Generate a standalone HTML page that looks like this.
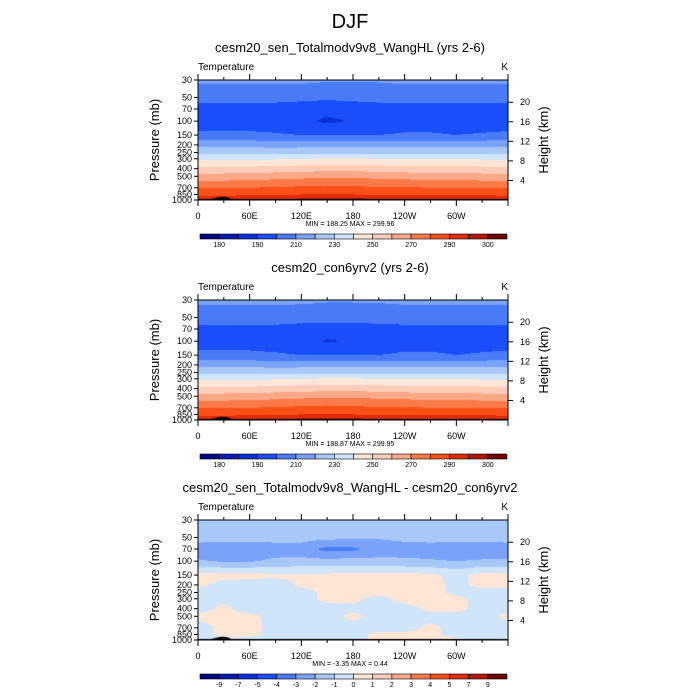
<!DOCTYPE html>
<html><head><meta charset="utf-8"><style>
body{margin:0;background:#fff;}
#root{position:relative;width:700px;height:700px;font-family:"Liberation Sans",sans-serif;}
canvas{position:absolute;}
svg{position:absolute;left:0;top:0;}
</style></head><body>
<div id="root">
<svg id="svg" width="700" height="700"></svg>
</div>
<script>
const plevs=[30,50,70,100,150,200,250,300,400,500,700,850,1000];
const lons=[0,30,60,90,120,150,180,210,240,270,300,330,360];
const temp1=[
[212,212,212,212,212,211,211,211,212,212,212,212,212],
[204,204,204,204,203,202,203,204,204,204,204,204,204],
[195,195,195,195,194,193,194,195,195,195,195,195,195],
[195,195,195,195,193,188,191,195,196,196,195,195,195],
[202,202,202,201,200,200,200,200,201,201,200,201,202],
[218,217,217,216,216,216,217,217,217,217,217,217,218],
[227,227,227,227,228,228,228,228,227,227,227,227,227],
[238,238,238,239,240,241,241,240,239,239,239,239,238],
[253,253,253,254,255,256,256,255,254,254,254,253,253],
[264,264,265,266,267,268,268,267,266,265,265,264,264],
[280,280,280,281,282,283,282,281,281,280,280,280,280],
[288,288,289,289,290,290,290,289,289,289,289,289,288],
[296,297,296,296,297,297,297,297,297,297,296,297,296]];
const temp2=[
[212,212,212,212,212,211,211,211,212,212,212,212,212],
[205,205,205,205,204,204,204,205,205,205,205,205,205],
[197,197,197,197,196,195,195,196,197,197,197,197,197],
[196,196,196,196,194,189,191,196,197,197,196,196,196],
[202,202,202,201,200,200,200,200,201,201,200,201,202],
[218,217,217,216,216,216,217,217,217,217,217,217,218],
[227,227,227,227,228,228,228,228,227,227,227,227,227],
[238,238,238,239,240,241,241,240,239,239,239,239,238],
[253,253,253,254,255,256,256,255,254,254,254,253,253],
[264,264,265,266,267,268,268,267,266,265,265,264,264],
[280,280,280,281,282,283,282,281,281,280,280,280,280],
[288,288,289,289,290,290,290,289,289,289,289,289,288],
[296,297,296,296,297,297,297,297,297,297,296,297,296]];
const diff=[
[-1.5,-1.5,-1.5,-1.5,-1.5,-1.5,-1.5,-1.5,-1.5,-1.5,-1.5,-1.5,-1.5],
[-1.6,-1.6,-1.6,-1.6,-1.6,-1.7,-1.8,-1.9,-1.7,-1.6,-1.6,-1.6,-1.6],
[-2.5,-2.6,-2.6,-2.5,-2.5,-3.3,-3.2,-2.6,-2.5,-2.5,-2.6,-2.6,-2.5],
[-1.9,-2.1,-2.1,-1.8,-1.7,-1.7,-1.6,-1.7,-1.8,-1.9,-2.0,-1.9,-1.9],
[0.3,0.3,0.3,0.2,0.2,0.2,0.3,0.3,0.3,0.2,-0.3,0.3,0.3],
[0.2,-0.3,-0.4,-0.5,0.2,0.2,0.3,0.3,0.3,0.3,-0.2,0.2,0.2],
[-0.3,-0.4,-0.5,-0.5,-0.3,0.2,0.3,0.3,0.3,0.3,-0.2,-0.3,-0.3],
[-0.3,-0.2,-0.5,-0.5,-0.3,0.2,0.2,-0.3,0.3,0.3,0.2,-0.3,-0.3],
[-0.3,0.2,-0.4,-0.4,-0.4,-0.3,-0.2,-0.3,-0.3,0.2,0.2,-0.3,-0.3],
[0.2,0.2,0.2,-0.3,-0.3,-0.3,0.2,-0.3,-0.3,-0.3,-0.2,-0.3,0.2],
[-0.3,0.2,0.3,-0.3,-0.3,-0.3,-0.3,-0.3,-0.3,0.2,-0.3,-0.3,-0.3],
[-0.3,0.2,0.2,-0.3,-0.3,-0.2,-0.3,0.2,0.2,0.2,-0.3,-0.3,-0.3],
[-0.3,-0.3,-0.3,-0.3,-0.3,-0.3,-0.3,0.2,0.2,0.2,0.2,-0.3,-0.3]];
const tLevels=[180,185,190,200,210,220,230,240,250,260,270,280,290,295,300];
const tLabels=["180","","190","","210","","230","","250","","270","","290","","300"];
const dLevels=[-9,-7,-5,-4,-3,-2,-1,0,1,2,3,4,5,7,9];
const dLabels=["-9","-7","-5","-4","-3","-2","-1","0","1","2","3","4","5","7","9"];
const colors=["#000a80","#0a1cb0","#0c30d8","#1a4ef8","#4a7cf8","#7aa2f8","#a8c8f8","#d0e4fa","#fde6d6","#fcccb8","#f9a888","#fb7a48","#fb5018","#e02c08","#b01808","#700000"];
const pTicks=[30,50,70,100,150,200,250,300,400,500,700,850,1000];
const zTicks=[4,8,12,16,20];
const xTicks=[0,60,120,180,240,300];
const xLabels=["0","60E","120E","180","120W","60W"];
const panels=[
 {title:"cesm20_sen_Totalmodv9v8_WangHL (yrs 2-6)",data:temp1,lev:tLevels,lab:tLabels,mm:"MIN = 188.25  MAX = 299.96"},
 {title:"cesm20_con6yrv2 (yrs 2-6)",data:temp2,lev:tLevels,lab:tLabels,mm:"MIN = 188.87  MAX = 299.95"},
 {title:"cesm20_sen_Totalmodv9v8_WangHL - cesm20_con6yrv2",data:diff,lev:dLevels,lab:dLabels,mm:"MIN =  -3.35  MAX =   0.44"}];
const X0=198,X1=508,PH=120;
const svg=document.getElementById('svg');const NS="http://www.w3.org/2000/svg";
function mk(tag,attrs,parent){const e=document.createElementNS(NS,tag);for(const k in attrs)e.setAttribute(k,attrs[k]);(parent||svg).appendChild(e);return e;}
function txt(x,y,s,size,anchor,name,extra){const t=mk('text',Object.assign({x:x,y:y,'font-size':size,'text-anchor':anchor||'middle',fill:'#000','font-family':'Liberation Sans, sans-serif','xml:space':'preserve'},extra||{}));t.textContent=s;return t;}
const xs=l=>X0+(X1-X0)*l/360;
function ys(p,top){return top+PH*Math.log(p/30)/Math.log(1000/30);}
function colorFor(v,lev){let i=0;while(i<lev.length&&v>=lev[i])i++;return colors[i];}
function interp(data,lon,lp){
 const lp0=plevs.map(p=>Math.log(p));
 let j=0;while(j<plevs.length-2&&lp>lp0[j+1])j++;
 let i=Math.min(Math.floor(lon/30),lons.length-2);
 const fx=(lon-lons[i])/30,fy=Math.max(0,Math.min(1,(lp-lp0[j])/(lp0[j+1]-lp0[j])));
 const a=data[j][i]*(1-fx)+data[j][i+1]*fx,b=data[j+1][i]*(1-fx)+data[j+1][i+1]*fx;
 return a*(1-fy)+b*fy;}
txt(350,28,"DJF",20,'middle','main-title');
panels.forEach((pn,k)=>{
 const top=80+220*k;
 const cv=document.createElement('canvas');cv.width=310;cv.height=120;
 cv.style.left=X0+'px';cv.style.top=top+'px';
 
 
 document.getElementById('root').insertBefore(cv,svg);
 const c=cv.getContext('2d');
 for(let py=0;py<120;py++){const p=30*Math.pow(1000/30,(py+0.5)/120);const lp=Math.log(p);
  for(let px=0;px<310;px++){const lon=360*(px+0.5)/310;c.fillStyle=colorFor(interp(pn.data,lon,lp),pn.lev);c.fillRect(px,py,1,1);}}
 c.fillStyle='#000';c.beginPath();c.moveTo(10,120);c.quadraticCurveTo(16,118,22,117);c.quadraticCurveTo(30,116,34,120);c.fill();
 c.fillRect(0,119,310,1);
 txt(350,top-28,pn.title,13,'middle','panel-title-'+(k+1));
 txt(X0,top-10,"Temperature",10,'start','variable-label-'+(k+1));
 txt(X1,top-10,"K",10,'end','units-label-'+(k+1));
 const fr=mk('rect',{x:X0,y:top,width:X1-X0,height:PH,fill:'none',stroke:'#000','stroke-width':1});
 
 for(let l=0;l<=360;l+=30){const x=xs(l),len=(l%60==0)?6:3;
  mk('line',{x1:x,x2:x,y1:top,y2:top-len,stroke:'#000'});mk('line',{x1:x,x2:x,y1:top+PH,y2:top+PH+len,stroke:'#000'});}
 xTicks.forEach((l,i)=>txt(xs(l),top+PH+19,xLabels[i],9,'middle','x-tick-label'));
 pTicks.forEach(p=>{const y=ys(p,top);mk('line',{x1:X0-4,x2:X0,y1:y,y2:y,stroke:'#000'});txt(X0-6,y+3,String(p),9,'end','y-tick-label');});
 zTicks.forEach(z=>{const p=1000*Math.exp(-z/7);const y=ys(p,top);mk('line',{x1:X1,x2:X1+5,y1:y,y2:y,stroke:'#000'});txt(X1+12,y+3,String(z),9,'start','height-tick-label');});
 txt(159,top+60,"Pressure (mb)",13,'middle','y-axis-title',{transform:`rotate(-90 159 ${top+60})`});
 txt(548,top+60,"Height (km)",13,'middle','right-axis-title',{transform:`rotate(-90 548 ${top+60})`});
 txt(350,top+146,pn.mm,7,'middle','min-max-label');
 const cbx=200,cbw=307,cby=top+154,n=colors.length,sw=cbw/n;
 colors.forEach((col,i)=>{const r=mk('rect',{x:cbx+i*sw,y:cby,width:sw,height:5,fill:col,stroke:'#000','stroke-width':0.6});
  });
 pn.lab.forEach((s,i)=>{if(s)txt(cbx+(i+1)*sw,cby+13,s,7,'middle','colorbar-label');});
});
</script>
</body></html>
